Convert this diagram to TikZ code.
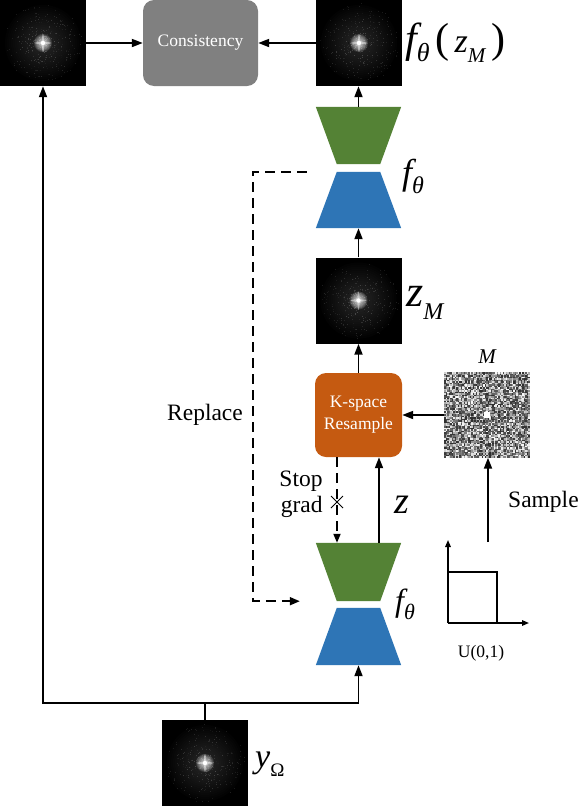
\documentclass[tikz,border=0pt]{standalone}
\usepackage{fontspec}
\setmainfont{Liberation Serif}
\usetikzlibrary{arrows.meta,calc}
\definecolor{encgreen}{RGB}{84,130,53}
\definecolor{decblue}{RGB}{46,117,182}
\definecolor{korange}{RGB}{197,90,17}
\definecolor{cgray}{RGB}{128,128,128}
\newcommand\fs[1]{\fontsize{#1}{#1}\selectfont}
\newcommand\encshape[2]{\fill[#2] (#1.north west) -- (#1.north east) -- ([xshift=-21pt]#1.south east) -- ([xshift=21pt]#1.south west) -- cycle;}
\newcommand\decshape[2]{\fill[#2] ([xshift=21pt]#1.north west) -- ([xshift=-21pt]#1.north east) -- (#1.south east) -- (#1.south west) -- cycle;}
\newcommand\kspot[2]{%
  \begin{scope}
    \clip (#1.south west) rectangle (#1.north east);
    \foreach \r in {38,36,...,6}{\fill[white,opacity=0.010] (#1.center) circle (\r pt);}
    \pgfmathsetseed{#2}
    \foreach \i in {1,...,420}{
      \pgfmathsetmacro\rr{40*rnd^1.3}
      \pgfmathsetmacro\aa{360*rnd}
      \pgfmathsetmacro\gg{int(8+30*rnd*(1-\rr/45))}
      \fill[white!\gg!black] ($(#1.center)+(\aa:\rr)$) rectangle ++(0.9,0.9);
    }
    \foreach \r in {9,8,...,1}{\fill[white,opacity=0.14] (#1.center) circle (\r pt);}
    \fill[white,opacity=0.4] (#1.center) ellipse (8pt and 1.2pt);
    \fill[white,opacity=0.4] (#1.center) ellipse (1.2pt and 9pt);
    \fill[white] (#1.center) circle (2.2pt);
  \end{scope}}
\begin{document}
\begin{tikzpicture}[x=1pt,y=-1pt,
  img/.style={minimum width=86pt,minimum height=86pt,inner sep=0,fill=black},
  ghost/.style={inner sep=0,minimum width=85pt,minimum height=57pt},
  arr/.style={line width=1.8pt,-{Triangle[length=11pt,width=8pt]}},
  ln/.style={line width=1.8pt},
  dsh/.style={line width=1.8pt,dash pattern=on 10pt off 6pt},
  lab/.style={inner sep=0,anchor=west},
  txt/.style={inner sep=0,font=\fontsize{23.5}{26}\selectfont},
]
\path[use as bounding box] (0,0) rectangle (580,806);
\fill[white] (0,0) rectangle (580,806);

% top row
\node[img] (imgL) at (43,43) {};
\kspot{imgL}{3}
\node[inner sep=0, minimum width=115pt, minimum height=86pt, fill=cgray, rounded corners=11pt,
      text=white, font=\fs{17.5}] (cons) at (200.5,43) {Consistency};
\node[img] (imgR) at (359,43) {};
\kspot{imgR}{5}
\node[lab] (lfz) at (405,43) {\fs{42}\itshape f\raisebox{-0.22em}{\fs{26}θ}\kern6pt\upshape\fs{42}(\kern5pt\fs{34}\itshape z\raisebox{-0.3em}{\fs{21}M}\kern6pt\upshape\fs{42})};

% upper f_theta
\node[ghost] (g1) at (358.5,135.5) {};
\encshape{g1}{encgreen}
\node[ghost,minimum height=56pt] (b1) at (358.5,200) {};
\decshape{b1}{decblue}
\node[lab] (lf1) at (402,176) {\fs{36}\itshape f\raisebox{-0.25em}{\fs{24}θ}};

% z_M
\node[img] (zM) at (358.5,300.5) {};
\kspot{zM}{9}
\node[lab] (lzM) at (406,303) {\fs{44}\itshape z\raisebox{-0.28em}{\fs{24}M}};

% K-space resample
\node[inner sep=0, minimum width=87pt, minimum height=84pt, fill=korange, rounded corners=11pt,
      text=white, align=center, font=\fontsize{17.5}{22}\selectfont] (ksp) at (358.5,415) {K-space\\Resample};

% mask M
\node[inner sep=0, minimum width=86pt, minimum height=86pt] (M) at (487,414.5) {};
\begin{scope}
  \pgfmathsetseed{17}
  \foreach \i in {0,...,56}{
    \foreach \j in {0,...,56}{
      \pgfmathsetmacro\g{int(18+82*rnd^1.3)}
      \fill[white!\g!black] (444+1.5*\i,372+1.5*\j) rectangle ++(1.5,1.5);
    }
  }
  \fill[white] (484,411.5) rectangle (490,417.5);
\end{scope}
\node[inner sep=0,font=\fs{21}\itshape] (lM) at (487,357) {M};

% lower f_theta
\node[ghost,minimum height=58pt] (g2) at (358.5,572) {};
\encshape{g2}{encgreen}
\node[ghost,minimum height=57pt] (b2) at (358.5,636.5) {};
\decshape{b2}{decblue}
\node[lab] (lf2) at (395,604) {\fs{32}\itshape f\raisebox{-0.25em}{\fs{22}θ}};

% y_Omega
\node[img] (yO) at (205,763) {};
\kspot{yO}{11}
\node[lab] (lyO) at (255,764) {\fs{34}\itshape y\raisebox{-0.25em}{\fs{19}\upshape Ω}};

% texts
\node[txt] (trep) at (205,415) {Replace};
\node[txt,align=right] (tsg) at (301,494) {Stop\\grad};
\node[lab] (tz) at (394,505) {\fs{38}\itshape z};
\node[txt,anchor=west] (tsam) at (508,502) {Sample};
\node[inner sep=0,font=\fs{17.5}] (tu) at (481,653) {U(0,1)};

% uniform plot
\coordinate (O) at (448,623);
\coordinate (yt) at (448,540);
\coordinate (xt) at (529,623);
\coordinate (bx) at (497,572);
\draw[line width=1.5pt,-{Triangle[length=7pt,width=5.5pt]}] (O) -- (yt);
\draw[line width=1.5pt,-{Triangle[length=7pt,width=5.5pt]}] (O) -- (xt);
\draw[line width=1.5pt] (O |- bx) -- (bx) -- (bx |- O);
\coordinate (ps) at (488,542);

% connectors
\draw[arr] (imgL) -- (cons);
\draw[arr] (imgR) -- (cons);
\draw[arr] (g1.north) -- (g1.north |- imgR.south);
\draw[arr] (zM.north) -- (b1.south);
\draw[arr] (ksp.north) -- (zM.south);
\draw[arr] (M.west |- ksp.east) -- (ksp.east);
\draw[arr] (ps) -- (ps |- M.south);
\draw[arr] ([xshift=20.5pt]g2.north) -- ([xshift=20.5pt]ksp.south);
\draw[dsh,-{Triangle[length=9pt,width=7pt]}] ([xshift=-21.5pt]ksp.south) -- ([xshift=-21.5pt]g2.north);
\coordinate (xm) at (337,502);
\draw[line width=0.8pt] ($(xm)+(-6,-6)$) -- ($(xm)+(6,6)$) ($(xm)+(-6,6)$) -- ($(xm)+(6,-6)$);
\coordinate (rp) at (253,0);
\coordinate (rs) at ([xshift=-9pt]b1.north west);
\coordinate (re) at ([xshift=-16pt]g2.south west);
\draw[dsh,-{Triangle[length=10pt,width=8pt]}] (rs) -- (rs -| rp) -- (re -| rp) -- (re);
\coordinate (jn) at (205,703);
\draw[ln] (yO.north) -- (jn);
\draw[arr] (jn) -| (imgL.south);
\draw[arr] (jn) -| (b2.south);
\end{tikzpicture}
\end{document}
